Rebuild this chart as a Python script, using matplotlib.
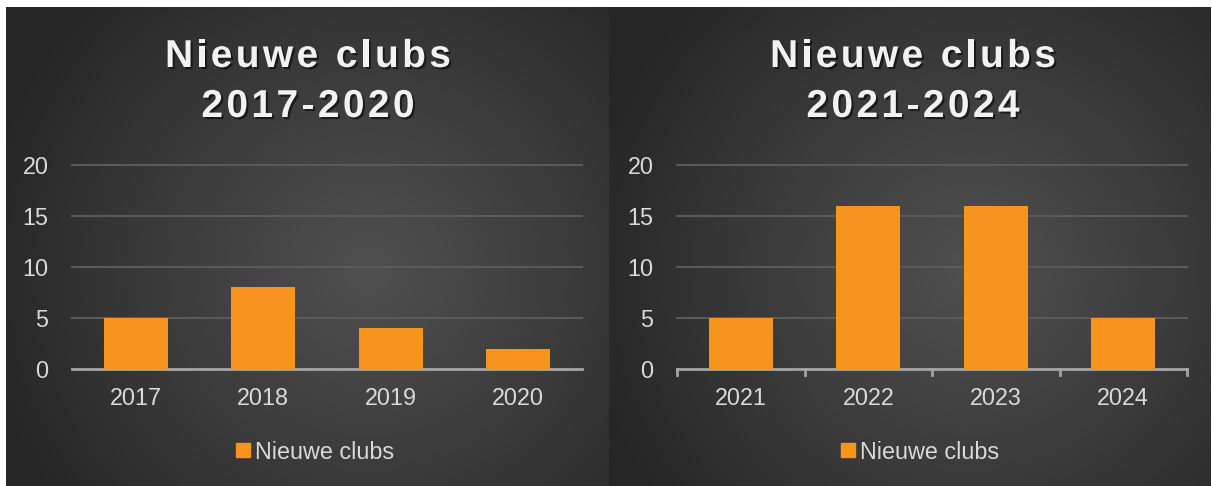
import numpy as np
import matplotlib
matplotlib.use("Agg")
import matplotlib.pyplot as plt
import matplotlib.patheffects as pe
from matplotlib.lines import Line2D
from matplotlib.font_manager import FontProperties, findfont
from matplotlib.ft2font import FT2Font

# ---- data ----
years_a = ["2017", "2018", "2019", "2020"]
values_a = [5, 8, 4, 2]
years_b = ["2021", "2022", "2023", "2024"]
values_b = [5, 16, 16, 5]
titles = [("Nieuwe clubs", "2017-2020"), ("Nieuwe clubs", "2021-2024")]
series_name = "Nieuwe clubs"
yticks = [0, 5, 10, 15, 20]

W, H = 1212, 486
DPI = 100
ORANGE = "#F7941D"
TXT = "#D9D9D9"
LBL_FONT = "Liberation Sans"
LBL_SIZE = 16.8

fig = plt.figure(figsize=(W / DPI, H / DPI), dpi=DPI, facecolor="white")


def fr(x0, y0, x1, y1):
    """pixel box (image coords, top-left origin) -> figure fraction rect"""
    return [x0 / W, 1 - y1 / H, (x1 - x0) / W, (y1 - y0) / H]


def background(x0, y0, x1, y1):
    ax = fig.add_axes(fr(x0, y0, x1, y1), zorder=0)
    w, h = int(x1 - x0), int(y1 - y0)
    xx, yy = np.meshgrid(np.arange(w), np.arange(h))
    cx, cy = w * 0.6, h * 0.55
    r = np.sqrt(((xx - cx) / (w * 0.65)) ** 2 + ((yy - cy) / (h * 0.8)) ** 2)
    r = np.clip(r, 0, 1)
    c_in, c_out = 0.31, 0.15
    v = c_in + (c_out - c_in) * r ** 1.1
    img = np.dstack([v, v, v])
    ax.imshow(img, aspect="auto", extent=[0, 1, 0, 1], interpolation="bilinear")
    ax.set_axis_off()
    return ax


title_fp = FontProperties(family="Liberation Sans", weight="bold", size=28)
title_font = FT2Font(findfont(title_fp))


def spaced_title(xc, yc, text, spacing_px):
    title_font.set_size(28, DPI)
    advs = []
    for ch in text:
        g = title_font.load_char(ord(ch))
        advs.append(g.linearHoriAdvance / 65536.0)
    total = sum(advs) + spacing_px * (len(text) - 1)
    x = xc - total / 2
    for ch, a in zip(text, advs):
        if ch != " ":
            fig.text((x + a / 2) / W, 1 - yc / H, ch, fontproperties=title_fp,
                     color="#F2F2F2", ha="center", va="center", zorder=10,
                     path_effects=[pe.SimplePatchShadow(offset=(1.5, -1.5), shadow_rgbFace="black", alpha=0.55),
                                   pe.Normal()])
        x += a + spacing_px


def panel(px0, px1, bx0, bx1, cats, vals, title, ticks_on, legend_cx, title_cx):
    background(px0, 7, px1, 486)
    ax = fig.add_axes(fr(bx0, 165, bx1, 369), zorder=5)
    ax.patch.set_alpha(0)
    x = np.arange(len(cats))
    bars = ax.bar(x, vals, width=0.5, color=ORANGE, zorder=3)
    for b in bars:
        b.set_path_effects([pe.SimplePatchShadow(offset=(0, 0), shadow_rgbFace="black", alpha=0.25), pe.Normal()])
    ax.set_xlim(-0.5, len(cats) - 0.5)
    ax.set_ylim(0, 20)
    ax.set_yticks(yticks)
    ax.set_yticklabels([str(t) for t in yticks])
    ax.set_xticks(x)
    ax.set_xticklabels(cats)
    for t in yticks[1:]:
        ax.axhline(t, color="#5A5A5A", lw=1.5, zorder=1, clip_on=False)
    for s in ["top", "right", "left"]:
        ax.spines[s].set_visible(False)
    ax.spines["bottom"].set_color("#A6A6A6")
    ax.spines["bottom"].set_linewidth(2)
    ax.tick_params(axis="y", length=0, pad=17, labelsize=LBL_SIZE, labelcolor=TXT)
    ax.tick_params(axis="x", length=0, pad=13, labelsize=LBL_SIZE, labelcolor=TXT)
    for lab in ax.get_xticklabels() + ax.get_yticklabels():
        lab.set_fontfamily(LBL_FONT)
    if ticks_on:
        for b in np.arange(-0.5, len(cats), 1.0):
            ax.plot([b, b], [0, -0.6], color="#A6A6A6", lw=2, clip_on=False, zorder=4)
    # title
    spaced_title(title_cx, 57, title[0], 3.4)
    spaced_title(title_cx, 107, title[1], 3.4)
    # legend
    h = Line2D([], [], marker="s", ls="", color=ORANGE, markersize=9.5)
    fig.legend([h], [series_name], loc="center", bbox_to_anchor=(legend_cx / W, 1 - 452 / H),
               frameon=False, labelcolor=TXT, handletextpad=0.05,
               handlelength=0.9, prop={"family": LBL_FONT, "size": LBL_SIZE})
    return ax


panel(6, 609, 72, 582, years_a, values_a, titles[0], False, 313, 308)
panel(609, 1211, 677, 1187, years_b, values_b, titles[1], True, 918, 913)

fig.savefig("out.png", dpi=DPI, facecolor="white")
